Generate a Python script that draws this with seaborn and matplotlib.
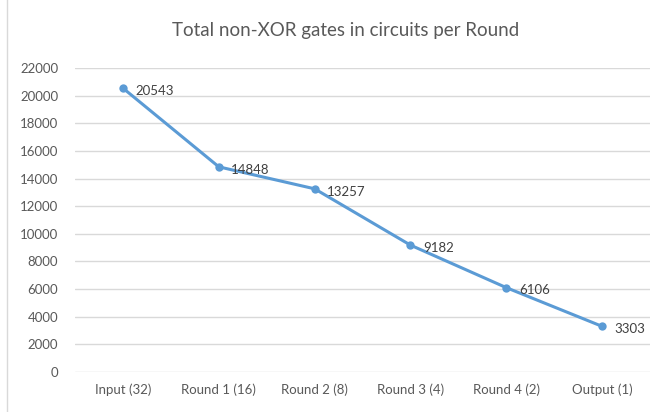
import matplotlib
matplotlib.use('Agg')
import matplotlib.pyplot as plt
import matplotlib.patches as patches
import pandas as pd
import seaborn as sns

# Chart data
rounds = ['Input (32)', 'Round 1 (16)', 'Round 2 (8)',
          'Round 3 (4)', 'Round 4 (2)', 'Output (1)']
gates = [20543, 14848, 13257, 9182, 6106, 3303]
y_ticks = list(range(0, 22001, 2000))

df = pd.DataFrame({'round': rounds, 'gates': gates})

sns.set_theme(style='white')
plt.rcParams['font.family'] = ['Lato', 'DejaVu Sans']
text_color = '#595959'
line_color = '#5B9BD5'
grid_color = '#D9D9D9'

fig = plt.figure(figsize=(6.58, 4.12), dpi=100)
ax = fig.add_axes([0.114, 0.097, 0.874, 0.738])

sns.lineplot(data=df, x='round', y='gates', sort=False, ax=ax,
             color=line_color, linewidth=2.2, marker='o',
             markersize=6, markeredgewidth=0, zorder=3)

# Data labels to the right of each point
for i, v in enumerate(gates):
    ax.annotate(str(v), (i, v), xytext=(9, -2), textcoords='offset points',
                ha='left', va='center', fontsize=9.5, color='#404040')

ax.set_xlim(-0.5, len(rounds) - 0.5)
ax.set_ylim(0, 22000)
ax.set_yticks(y_ticks)
ax.yaxis.grid(True, color=grid_color, linewidth=1)
ax.set_axisbelow(True)
for s in ax.spines.values():
    s.set_visible(False)
ax.tick_params(axis='both', length=0, labelsize=9.5, colors=text_color)
ax.tick_params(axis='y', pad=12)
ax.tick_params(axis='x', pad=8)
ax.set_xlabel('')
ax.set_ylabel('')

fig.text(0.525, 0.925, 'Total non-XOR gates in circuits per Round',
         ha='center', va='center', fontsize=13.5, color=text_color)

# Chart border (only left edge visible in the reference)
fig.add_artist(patches.Rectangle((7 / 658, -0.05), 1.2, 1.2,
                                 transform=fig.transFigure, fill=False,
                                 edgecolor=grid_color, linewidth=1))

fig.savefig('out.png', dpi=100)
